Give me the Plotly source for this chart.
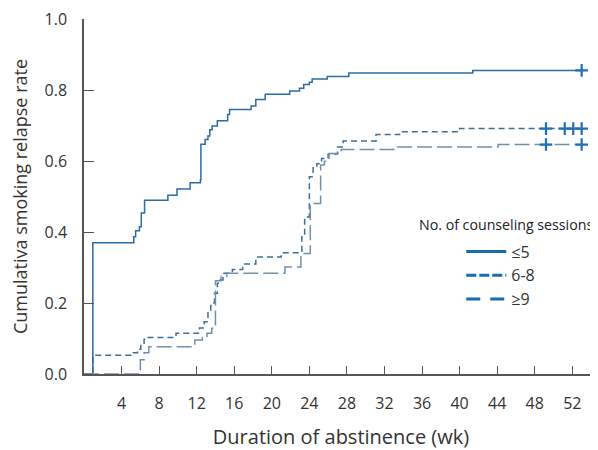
import plotly.graph_objects as go

# ---- data ----
weeks_le5 = [0, 0.94, 5.3, 5.5, 5.9, 6.1, 6.45, 8.93, 9.9, 11.3, 12.4, 12.45, 12.9, 13.2, 13.4, 13.65,
             14.2, 15.3, 15.5, 17.8, 18.3, 19.3, 21.9, 22.95, 23.4, 24.0, 24.3, 25.9, 28.2, 41.4, 52.9]
rate_le5 = [0, 0.37, 0.387, 0.404, 0.415, 0.454, 0.49, 0.504, 0.522, 0.539, 0.548, 0.648, 0.661, 0.671, 0.689, 0.699,
            0.714, 0.732, 0.746, 0.756, 0.774, 0.789, 0.798, 0.806, 0.816, 0.823, 0.832, 0.839, 0.849, 0.856, 0.856]

weeks_6_8 = [0, 0.95, 5.0, 5.7, 6.05, 6.4, 6.6, 9.8, 12.3, 12.8, 13.2, 13.5, 13.9, 14.2, 14.5, 14.8,
             15.8, 16.9, 18.3, 21.0, 23.2, 23.5, 24.0, 24.4, 24.8, 25.3, 26.0, 27.0, 27.6, 31.1, 33.6, 40.0, 52.9]
rate_6_8 = [0, 0.053, 0.06, 0.07, 0.084, 0.098, 0.103, 0.115, 0.13, 0.147, 0.176, 0.2, 0.228, 0.256, 0.265, 0.284,
            0.295, 0.31, 0.33, 0.342, 0.387, 0.443, 0.556, 0.584, 0.593, 0.608, 0.62, 0.64, 0.657, 0.675, 0.683, 0.692, 0.692]

weeks_ge9 = [0, 6.0, 6.4, 6.9, 11.8, 12.6, 13.1, 13.6, 14.0, 14.6, 15.2, 21.4, 23.1, 24.1, 25.2, 25.6,
             26.1, 27.4, 33.4, 44.1, 52.9]
rate_ge9 = [0, 0.04, 0.06, 0.077, 0.096, 0.103, 0.115, 0.129, 0.263, 0.275, 0.284, 0.302, 0.34, 0.481, 0.589, 0.60,
            0.622, 0.633, 0.64, 0.647, 0.647]

censor_le5_x = [53.0]
censor_le5_y = [0.856]
censor_6_8_x = [49.2, 51.2, 52.1, 53.0]
censor_6_8_y = [0.692, 0.692, 0.692, 0.692]
censor_ge9_x = [49.2, 53.0]
censor_ge9_y = [0.647, 0.647]

group_labels = ["≤5", "6-8", "≥9"]
x_ticks = [4, 8, 12, 16, 20, 24, 28, 32, 36, 40, 44, 48, 52]
y_ticks = [0.0, 0.2, 0.4, 0.6, 0.8, 1.0]

FONT = "Open Sans"
fig = go.Figure()

curve_styles = [
    (weeks_le5, rate_le5, "#2b6ca3", "solid"),
    (weeks_6_8, rate_6_8, "#3d6f99", "6px,4px"),
    (weeks_ge9, rate_ge9, "#7190ad", "15px,5px"),
]
for xs, ys, col, dash in curve_styles:
    fig.add_trace(go.Scatter(x=xs, y=ys, mode="lines", line=dict(shape="hv", color=col, width=1.5, dash=dash),
                             showlegend=False, hoverinfo="skip"))

for cx, cy in [(censor_le5_x, censor_le5_y), (censor_6_8_x, censor_6_8_y), (censor_ge9_x, censor_ge9_y)]:
    fig.add_trace(go.Scatter(x=cx, y=cy, mode="markers",
                             marker=dict(symbol="cross-thin", size=9, line=dict(width=2.2, color="#1f6fb8")),
                             showlegend=False, hoverinfo="skip"))

legend_dashes = ["solid", "10px,3px", "14px,10px"]
for lab, dash in zip(group_labels, legend_dashes):
    fig.add_trace(go.Scatter(x=[None], y=[None], mode="lines", name=lab,
                             line=dict(color="#1a6bb0", width=3, dash=dash)))

fig.add_annotation(text="No. of counseling sessions", xref="paper", yref="paper", x=0.821, y=0.42,
                   showarrow=False, xanchor="center", yanchor="middle",
                   font=dict(family=FONT, size=14.2, color="#222"))

# the page body adds an 8px offset, so the figure is 8px smaller and margins shifted
fig.update_layout(
    width=590, height=442,
    margin=dict(l=76, r=0, t=11, b=76),
    plot_bgcolor="white", paper_bgcolor="white",
    font=dict(family=FONT, color="#333"),
    legend=dict(x=0.734, y=0.393, xanchor="left", yanchor="top", bgcolor="rgba(0,0,0,0)",
                font=dict(family=FONT, size=16, color="#333"), itemwidth=40, tracegroupgap=0),
    xaxis=dict(range=[0, 54.74], tickvals=x_ticks, ticks="inside", ticklen=8, tickcolor="#555",
               showline=True, linecolor="#555", linewidth=1.5, showgrid=False, zeroline=False,
               tickfont=dict(size=16, color="#333"), ticklabelstandoff=14, automargin=False,
               title=dict(text="Duration of abstinence (wk)", font=dict(size=20, color="#333"), standoff=17)),
    yaxis=dict(range=[0, 1.001], tickvals=y_ticks, tickformat=".1f", ticks="inside", ticklen=10, tickcolor="#555",
               showline=True, linecolor="#555", linewidth=1.5, showgrid=False, zeroline=False,
               tickfont=dict(size=16, color="#333"), ticklabelstandoff=12, automargin=False,
               ticklabeloverflow="allow",
               title=dict(text="Cumulativa smoking relapse rate", font=dict(size=18, color="#333"), standoff=12)),
)

fig.write_html("out.html")
